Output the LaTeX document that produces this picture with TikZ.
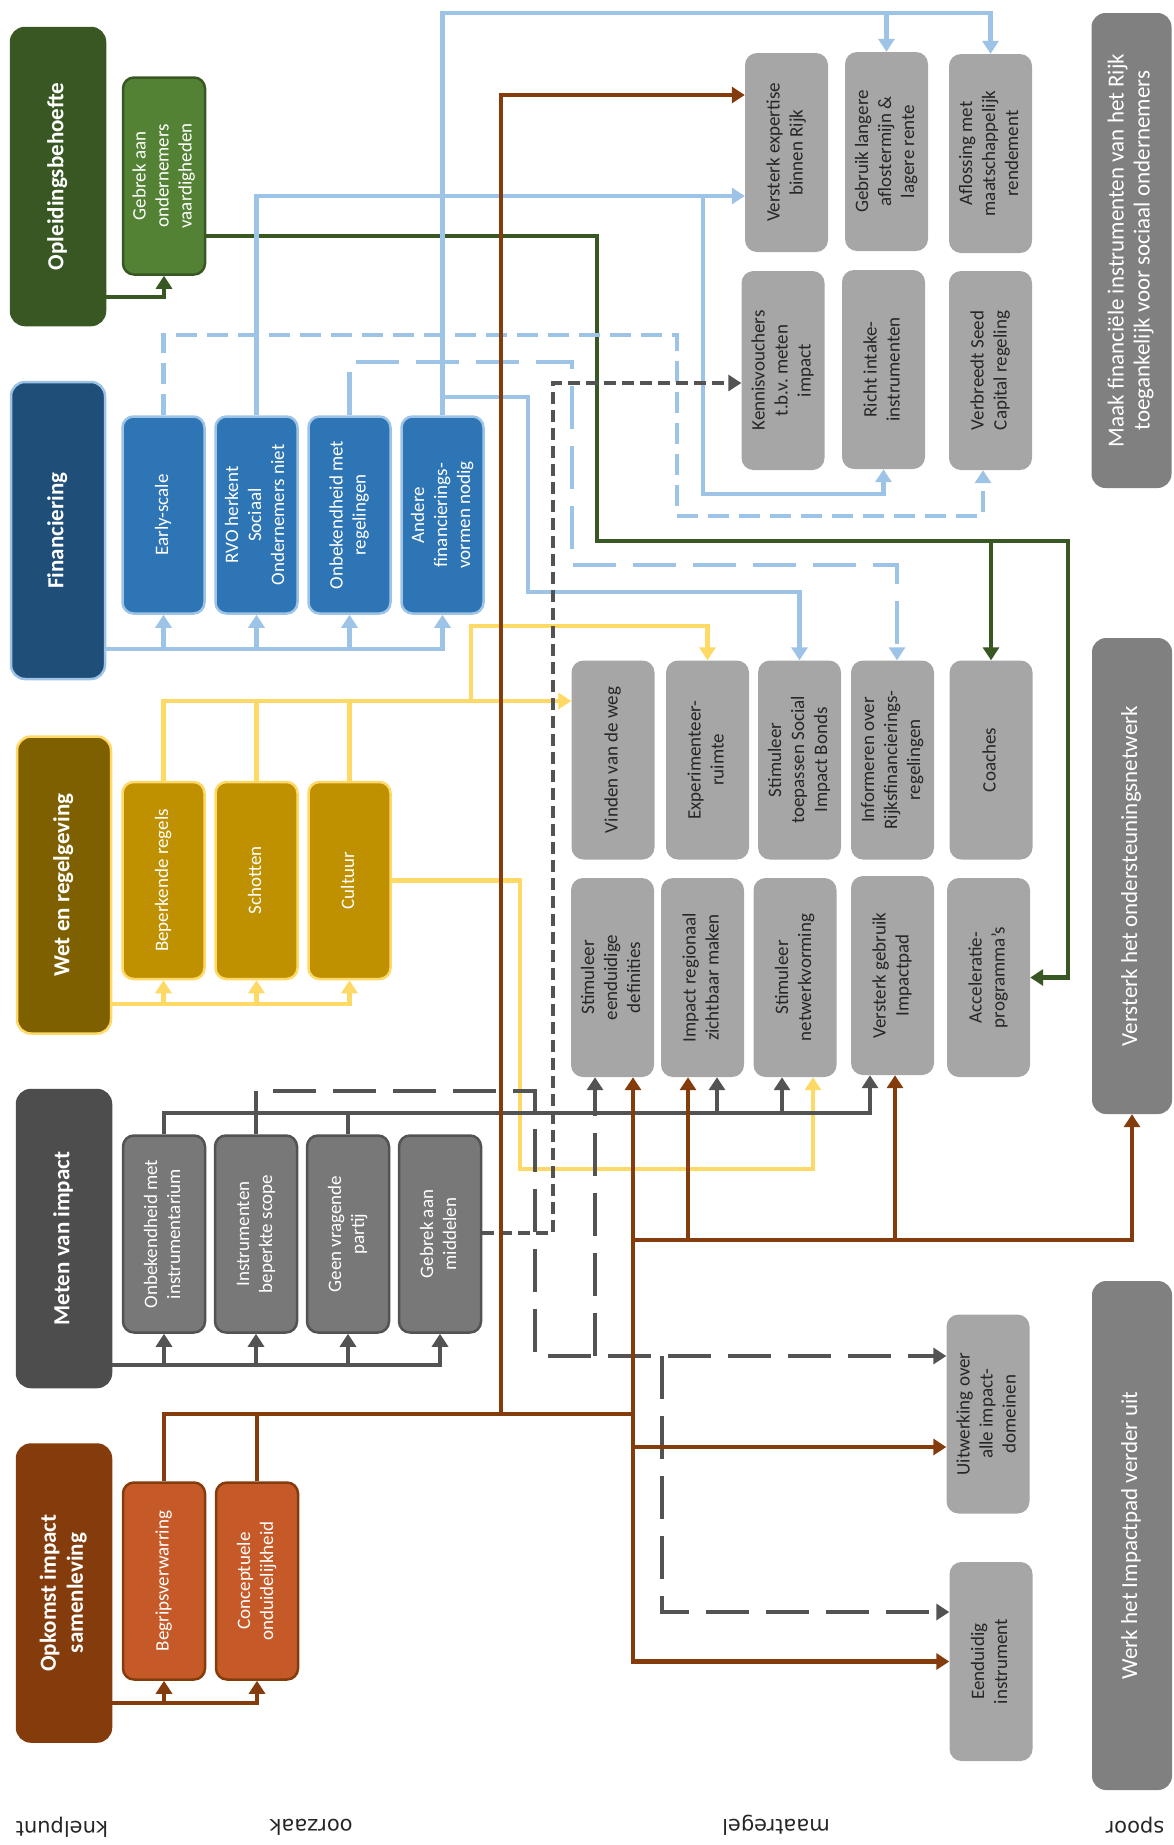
\documentclass[tikz,border=0pt]{standalone}
\usepackage{fontspec}
\setmainfont{Carlito}
\newfontfamily\kolomfont{DejaVu Sans}
\usetikzlibrary{arrows.meta}
\definecolor{cdgroen}{HTML}{385723}
\definecolor{cgroen}{HTML}{548235}
\definecolor{cdblauw}{HTML}{1F4E79}
\definecolor{cblauw}{HTML}{2E75B6}
\definecolor{clblauw}{HTML}{9DC3E6}
\definecolor{cbruingeel}{HTML}{7F6000}
\definecolor{cgoud}{HTML}{BF9000}
\definecolor{cgeel}{HTML}{FFD966}
\definecolor{cantraciet}{HTML}{4D4D4D}
\definecolor{cmidgrijs}{HTML}{787878}
\definecolor{clijngrijs}{HTML}{535353}
\definecolor{croest}{HTML}{843C0C}
\definecolor{coranje}{HTML}{C55A28}
\definecolor{cmaat}{HTML}{A6A6A6}
\definecolor{cspoor}{HTML}{808080}
\newcommand{\vt}[1]{\rotatebox{90}{\begin{tabular}{@{}c@{}}#1\end{tabular}}}

\begin{document}
\begin{tikzpicture}[x=1pt,y=-1pt,
  knel/.style={rounded corners=14pt,line width=2.5pt,text=white,font=\fontsize{23}{27}\selectfont\bfseries,minimum width=94pt,minimum height=297pt,inner sep=0pt},
  oorz/.style={rounded corners=11pt,line width=2.5pt,text=white,font=\fontsize{19}{23}\selectfont,minimum width=82pt,minimum height=197pt,inner sep=0pt},
  maat/.style={fill=cmaat,rounded corners=12pt,text=black!85,font=\fontsize{19}{23}\selectfont,minimum width=83pt,minimum height=199pt,inner sep=0pt},
  spoorbox/.style={fill=cspoor,rounded corners=14pt,text=white,font=\fontsize{23}{26}\selectfont,minimum width=80pt,inner sep=0pt},
  kolom/.style={rotate=180,font=\kolomfont\fontsize{21}{24}\selectfont,text=black!85},
  pijl/.style={-{Triangle[width=16pt,length=13pt]}},
  lijn/.style={line width=4.5pt},
  streep/.style={dash pattern=on 21pt off 10pt},
  langstreep/.style={dash pattern=on 43pt off 17pt},
  kortstreep/.style={dash pattern=on 12pt off 6pt}]
\useasboundingbox (0,0) rectangle (1174,1845);

% knelpunten
\node[knel,fill=cdgroen,draw=cdgroen] (opl) at (58,176.5) {\vt{Opleidingsbehoefte}};
\node[knel,fill=cdblauw,draw=clblauw] (fin) at (58,530.5) {\vt{Financiering}};
\node[knel,fill=cbruingeel,draw=cgeel] (wet) at (64,885) {\vt{Wet en regelgeving}};
\node[knel,fill=cantraciet,draw=cantraciet] (met) at (64,1238.5) {\vt{Meten van impact}};
\node[knel,fill=croest,draw=croest] (opk) at (64,1593) {\vt{Opkomst impact\\samenleving}};

% oorzaken
\node[oorz,fill=cgroen,draw=cdgroen] (geb) at (164,176) {\vt{Gebrek aan\\ondernemers\\vaardigheden}};
\foreach \txt [count=\k from 0] in {{Early-scale}, {RVO herkent\\Sociaal\\Ondernemers niet}, {Onbekendheid met\\regelingen}, {Andere\\financierings-\\vormen nodig}}
    \node[oorz,fill=cblauw,draw=clblauw] (f\k) at (163.5+93*\k,515) {\vt{\txt}};
\foreach \txt [count=\k from 0] in {{Beperkende regels}, {Schotten}, {Cultuur}}
    \node[oorz,fill=cgoud,draw=cgeel] (w\k) at (163.5+93*\k,880.5) {\vt{\txt}};
\foreach \txt [count=\k from 0] in {{Onbekendheid met\\instrumentarium}, {Instrumenten\\beperkte scope}, {Geen vragende\\partij}, {Gebrek aan\\middelen}}
    \node[oorz,fill=cmidgrijs,draw=clijngrijs] (m\k) at (164+92*\k,1234) {\vt{\txt}};
\foreach \txt [count=\k from 0] in {{Begripsverwarring}, {Conceptuele\\onduidelijkheid}}
    \node[oorz,fill=coranje,draw=croest] (o\k) at (164+93*\k,1581) {\vt{\txt}};

% maatregelen
\node[maat] (vre) at (786.5,152.5) {\vt{Versterk expertise\\binnen Rijk}};
\node[maat] (gla) at (886.5,151.5) {\vt{Gebruik langere\\aflostermijn \&\\lagere rente}};
\node[maat] (afl) at (990.5,153.5) {\vt{Aflossing met\\maatschappelijk\\rendement}};
\node[maat] (ken) at (783,370.5) {\vt{Kennisvouchers\\t.b.v.\ meten\\impact}};
\node[maat] (ric) at (883.5,369.5) {\vt{Richt intake-\\instrumenten}};
\node[maat] (ver) at (990.5,370.5) {\vt{Verbreedt Seed\\Capital regeling}};
\node[maat] (vin) at (613,760) {\vt{Vinden van de weg}};
\node[maat] (exp) at (707.5,760) {\vt{Experimenteer-\\ruimte}};
\node[maat] (sib) at (799.5,760) {\vt{Stimuleer\\toepassen Social\\Impact Bonds}};
\node[maat] (inf) at (892.5,760) {\vt{Informeren over\\Rijksfinancierings-\\regelingen}};
\node[maat] (coa) at (991,760) {\vt{Coaches}};
\node[maat] (sed) at (612.5,977.5) {\vt{Stimuleer\\eenduidige\\definities}};
\node[maat] (irz) at (702.5,977.5) {\vt{Impact regionaal\\zichtbaar maken}};
\node[maat] (snw) at (795,977.5) {\vt{Stimuleer\\netwerkvorming}};
\node[maat] (vgi) at (892.5,975.5) {\vt{Versterk gebruik\\Impactpad}};
\node[maat] (acc) at (988.5,977.5) {\vt{Acceleratie-\\programma’s}};
\node[maat] (uit) at (988,1414) {\vt{Uitwerking over\\alle impact-\\domeinen}};
\node[maat] (een) at (991,1661.5) {\vt{Eenduidig\\instrument}};

% sporen
\node[spoorbox,minimum height=475pt] (sp1) at (1131.5,250.5) {\vt{Maak financiële instrumenten van het Rijk\\toegankelijk voor sociaal ondernemers}};
\node[spoorbox,minimum height=476pt] (sp2) at (1132,876) {\vt{Versterk het ondersteuningsnetwerk}};
\node[spoorbox,minimum height=509pt] (sp3) at (1132,1535.5) {\vt{Werk het Impactpad verder uit}};

% groen
\draw[lijn,draw=cdgroen,pijl] (opl.east |- 0,297) -| (geb.south);
\draw[lijn,draw=cdgroen,pijl] (geb.east |- 0,236) -| (597,541) -| ([xshift=38pt]acc.east) -- (acc.east);
\draw[lijn,draw=cdgroen,pijl] (coa.north |- 0,541) -- (coa.north);

% blauw
\draw[lijn,draw=clblauw,pijl] (fin.east |- 0,649) -| (f3.south);
\foreach \k in {0,1,2}
    \draw[lijn,draw=clblauw,pijl] (f\k.south |- 0,649) -- (f\k.south);
\draw[lijn,draw=clblauw,streep,pijl] (f0.north) |- (677,335) |- (983,516) -- (ver.south -| 983,0);
\draw[lijn,draw=clblauw,pijl] (f1.north) |- (vre.west |- 0,196);
\draw[lijn,draw=clblauw,pijl] (703,196) |- (ric.south |- 0,494) -- (ric.south);
\draw[lijn,draw=clblauw,langstreep,pijl] (f2.north) |- (572,362) |- (897,565) -- (inf.north -| 897,0);
\draw[lijn,draw=clblauw,pijl] (f3.north) |- (afl.north |- 0,13) -- (afl.north);
\draw[lijn,draw=clblauw,pijl] (gla.north |- 0,13) -- (gla.north);
\draw[lijn,draw=clblauw,pijl] (f3.north |- 0,397) -| (528,592) -| (sib.north);

% geel
\draw[lijn,draw=cgeel,pijl] (wet.east |- 0,1004) -| (w2.south);
\foreach \k in {0,1}
    \draw[lijn,draw=cgeel,pijl] (w\k.south |- 0,1004) -- (w\k.south);
\draw[lijn,draw=cgeel,pijl] (w0.north) |- (vin.west |- 0,701);
\foreach \k in {1,2}
    \draw[lijn,draw=cgeel] (w\k.north) -- (w\k.north |- 0,701);
\draw[lijn,draw=cgeel,pijl] (471,701) |- (exp.north |- 0,626) -- (exp.north);
\draw[lijn,draw=cgeel,pijl] (w2.east) -| (520,1169) -| (snw.south -| 813,0);

% grijs
\draw[lijn,draw=clijngrijs,pijl] (met.east |- 0,1365) -| (m3.south);
\foreach \k in {0,1,2}
    \draw[lijn,draw=clijngrijs,pijl] (m\k.south |- 0,1365) -- (m\k.south);
\draw[lijn,draw=clijngrijs,pijl] (m0.north) |- (870,1113) -- (vgi.south -| 870,0);
\foreach \x/\doel in {595/sed, 717/irz, 782/snw}
    \draw[lijn,draw=clijngrijs,pijl] (\x,1113) -- (\doel.south -| \x,0);
\draw[lijn,draw=clijngrijs] (m2.north) -- (m2.north |- 0,1113);
\draw[lijn,draw=clijngrijs,langstreep,pijl] (m1.north) |- (535,1091) |- (uit.west |- 0,1356);
\draw[lijn,draw=clijngrijs,langstreep] (595,1356) -- (595,1113);
\draw[lijn,draw=clijngrijs,langstreep,pijl] (662,1356) |- (een.west |- 0,1612);
\draw[lijn,draw=clijngrijs,kortstreep,pijl] (m3.east |- 0,1233) -| (553,383) -- (ken.west |- 0,383);

% bruin
\draw[lijn,draw=croest,pijl] (opk.east |- 0,1703) -| (o1.south);
\draw[lijn,draw=croest,pijl] (o0.south |- 0,1703) -- (o0.south);
\draw[lijn,draw=croest] (o0.north) |- (633,1414);
\draw[lijn,draw=croest] (o1.north) -- (o1.north |- 0,1414);
\draw[lijn,draw=croest,pijl] (501,1414) |- (vre.west |- 0,95);
\draw[lijn,draw=croest,pijl] (633,1414) -- (sed.south -| 633,0);
\draw[lijn,draw=croest,pijl] (633,1414) |- (een.west);
\draw[lijn,draw=croest,pijl] (633,1447) -- (uit.west |- 0,1447);
\draw[lijn,draw=croest,pijl] (633,1240) -| (sp2.south);
\foreach \x/\doel in {688/irz, 895/vgi}
    \draw[lijn,draw=croest,pijl] (\x,1240) -- (\doel.south -| \x,0);

% kolomkoppen
\node[kolom] (k1) at (62,1827) {knelpunt};
\node[kolom] (k2) at (311,1827) {oorzaak};
\node[kolom] (k3) at (776,1825) {maatregel};
\node[kolom] (k4) at (1135,1825) {spoor};
\end{tikzpicture}
\end{document}
